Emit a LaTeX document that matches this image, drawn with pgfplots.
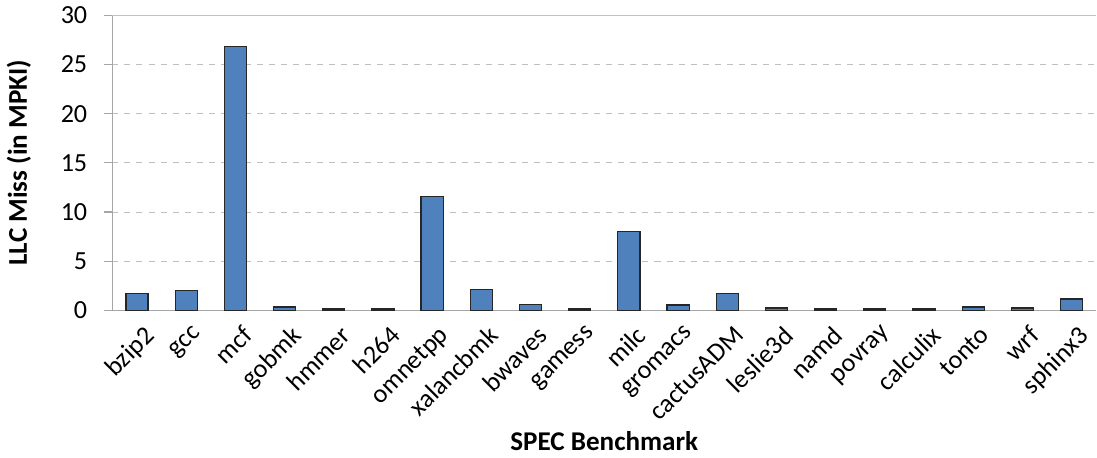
\documentclass[border=0pt]{standalone}
\usepackage{pgfplots}
\pgfplotsset{compat=1.18}
\usepackage{fontspec}
\setmainfont{Carlito}
\definecolor{barblue}{HTML}{4F81BD}
\definecolor{axgray}{HTML}{A6A6A6}
\begin{document}
\begin{tikzpicture}
\begin{axis}[
  scale only axis,
  width=490pt, height=147pt,
  xmin=-0.5, xmax=19.5,
  ymin=0, ymax=30,
  ytick={0,5,...,25},
  extra y ticks={30},
  extra y tick style={grid=major, major grid style={solid, draw=axgray!70, line width=0.6pt}},
  ymajorgrids,
  major grid style={dashed, draw=gray!50, line width=0.4pt},
  axis x line*=bottom,
  axis y line*=left,
  axis line style={draw=axgray, line width=0.8pt, -},
  xtick=data,
  xticklabels={bzip2,gcc,mcf,gobmk,hmmer,h264,omnetpp,xalancbmk,bwaves,gamess,milc,gromacs,cactusADM,leslie3d,namd,povray,calculix,tonto,wrf,sphinx3},
  xticklabel style={rotate=45, anchor=north east, inner sep=1pt, yshift=-3pt, xshift=1pt, font=\fontsize{13}{15}\selectfont},
  yticklabel style={font=\fontsize{13}{15}\selectfont, xshift=-5pt},
  /pgf/number format/assume math mode=true,
  major x tick style={draw=none},
  ytick style={draw=axgray, line width=0.6pt},
  tick align=outside,
  major tick length=4pt,
  ylabel={\textbf{LLC Miss (in MPKI)}},
  xlabel={\textbf{SPEC Benchmark}},
  label style={font=\fontsize{13.5}{16}\selectfont},
  ylabel style={yshift=0pt},
  xlabel style={yshift=0pt},
  ybar, bar width=11pt,
  clip=false,
]
\addplot[fill=barblue, draw=black!85, line width=0.6pt] coordinates {
(0,1.72) (1,2.0) (2,26.85) (3,0.35) (4,0.15) (5,0.15) (6,11.55) (7,2.1) (8,0.6) (9,0.15)
(10,8.0) (11,0.55) (12,1.7) (13,0.25) (14,0.15) (15,0.15) (16,0.15) (17,0.35) (18,0.25) (19,1.15)
};
\end{axis}
\end{tikzpicture}
\end{document}
